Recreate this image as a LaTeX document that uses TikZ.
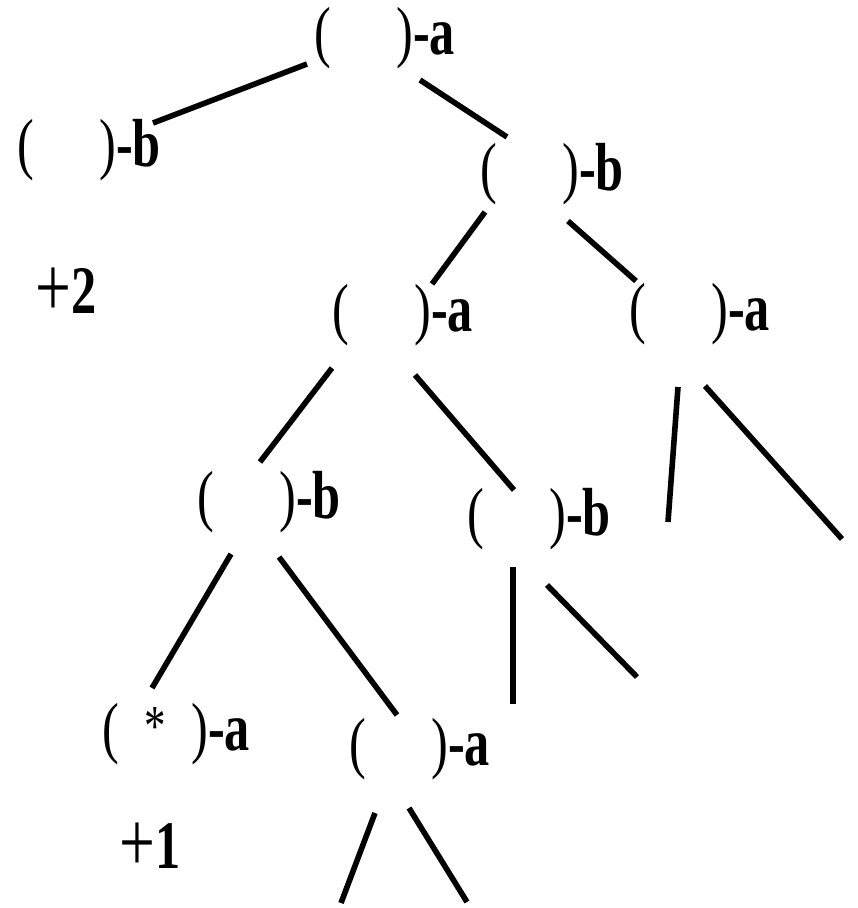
\documentclass[tikz,border=0pt]{standalone}
\usepackage{fontspec}
\setmainfont{Liberation Serif}
\newcommand{\trlab}[3][87.7pt]{\scalebox{0.74}[1]{(\makebox[#1]{#2})\textbf{-#3}}}
\newcommand{\trscore}[1]{\scalebox{0.74}[1]{\raisebox{-3pt}{\fontsize{86}{90}\selectfont +}\textbf{#1}}}
\tikzset{
  lab/.style={inner sep=0pt, outer sep=0pt, anchor=base west, font=\fontsize{68}{80}\selectfont},
  edge/.style={line width=5.6pt, black}
}
\begin{document}
\begin{tikzpicture}[x=1pt, y=-1pt]
\useasboundingbox (0,0) rectangle (858,908);
% nodes
\node[lab] (n1) at (314.6,54) {\trlab{}{a}};
\node[lab] (n2) at (17.6,166) {\trlab{}{b}};
\node[lab] (n3) at (480.6,190) {\trlab{}{b}};
\node[lab] (n4) at (332.6,331) {\trlab{}{a}};
\node[lab] (n5) at (629.6,330) {\trlab{}{a}};
\node[lab] (n6) at (197.6,518) {\trlab{}{b}};
\node[lab] (n7) at (467.6,535) {\trlab{}{b}};
\node[lab] (n8) at (102.6,750) {\trlab[97.2pt]{\raisebox{5pt}{\fontsize{58}{60}\selectfont *}}{a}};
\node[lab] (n9) at (349.6,765) {\trlab{}{a}};
\node[lab] (s2) at (35.5,313) {\trscore{2}};
\node[lab] (s1) at (119.5,868) {\trscore{1}};
% connector end points
\coordinate (a1) at (307,64);   \coordinate (b1) at (153,123);
\coordinate (a2) at (420,80);   \coordinate (b2) at (507,137);
\coordinate (a3) at (485,212);  \coordinate (b3) at (432,284);
\coordinate (a4) at (568,221);  \coordinate (b4) at (636,281);
\coordinate (a5) at (332,368);  \coordinate (b5) at (260,462);
\coordinate (a6) at (415,375);  \coordinate (b6) at (514,490);
\coordinate (a7) at (678,387);  \coordinate (b7) at (668,522);
\coordinate (a8) at (705,386);  \coordinate (b8) at (842,539);
\coordinate (a9) at (231,554);  \coordinate (b9) at (152,688);
\coordinate (a10) at (279,557); \coordinate (b10) at (397,715);
\coordinate (a11) at (513,567); \coordinate (b11) at (513,704);
\coordinate (a12) at (547,585); \coordinate (b12) at (637,677);
\coordinate (a13) at (375,813); \coordinate (b13) at (341,903);
\coordinate (a14) at (409,808); \coordinate (b14) at (467,902);
% connectors
\foreach \i in {1,...,14} {\draw[edge] (a\i) -- (b\i);}
\end{tikzpicture}
\end{document}
